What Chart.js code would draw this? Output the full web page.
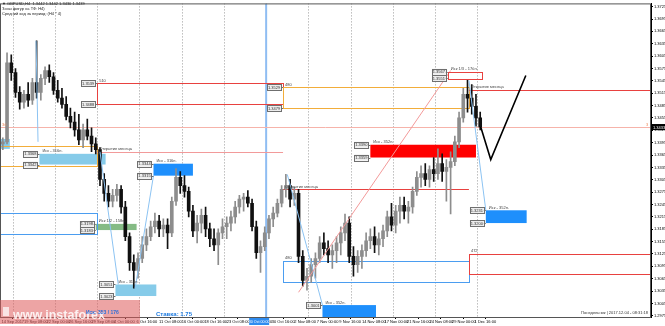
<!DOCTYPE html>
<html>
<head>
<meta charset="utf-8">
<script src="https://cdn.jsdelivr.net/npm/chart.js@4.4.1/dist/chart.umd.min.js"></script>
<style>
html, body { margin: 0; padding: 0; background: #fff; }
#wrap { width: 665px; height: 326px; }
</style>
</head>
<body>
<div id="wrap"><canvas id="chart" width="665" height="326"></canvas></div>
<script>
"use strict";

// GBPUSD H4, one drawn candle per 3 H4 bars (bar 0 = 14 Sep 2017 16:00)
const CANDLE_SPAN = 3;
const LABEL_STEP = 16;

const candleOpen = [
    1.3392, 1.3397, 1.3589, 1.3565, 1.3517, 1.3493, 1.3512, 1.3498, 1.3541, 1.3517,
    1.3551, 1.3570, 1.3555, 1.3522, 1.3503, 1.3488, 1.3459, 1.3445, 1.3426, 1.3402,
    1.3426, 1.3411, 1.3392, 1.3378, 1.3306, 1.3272, 1.3253, 1.3267, 1.3282, 1.3239,
    1.3167, 1.3104, 1.3085, 1.3114, 1.3147, 1.3167, 1.3191, 1.3205, 1.3186, 1.3195,
    1.3176, 1.3253, 1.3311, 1.3291, 1.3277, 1.3229, 1.3181, 1.3200, 1.3219, 1.3186,
    1.3162, 1.3147, 1.3176, 1.3191, 1.3200, 1.3215, 1.3239, 1.3258, 1.3263, 1.3248,
    1.3191, 1.3128, 1.3143, 1.3176, 1.3210, 1.3224, 1.3248, 1.3282, 1.3291, 1.3258,
    1.3272, 1.3119, 1.3061, 1.3071, 1.3099, 1.3114, 1.3152, 1.3138, 1.3123, 1.3133,
    1.3152, 1.3176, 1.3200, 1.3119, 1.3099, 1.3119, 1.3133, 1.3157, 1.3167, 1.3147,
    1.3162, 1.3181, 1.3215, 1.3195, 1.3229, 1.3243, 1.3229, 1.3239, 1.3277, 1.3311,
    1.3320, 1.3306, 1.3330, 1.3320, 1.3344, 1.3325, 1.3335, 1.3349, 1.3397, 1.3455,
    1.3512, 1.3503, 1.3483, 1.3455
];
const candleHigh = [
    1.3407, 1.3613, 1.3608, 1.3575, 1.3531, 1.3522, 1.3541, 1.3551, 1.3642, 1.3560,
    1.3579, 1.3584, 1.3565, 1.3546, 1.3527, 1.3507, 1.3479, 1.3469, 1.3464, 1.3440,
    1.3452, 1.3431, 1.3407, 1.3383, 1.3320, 1.3291, 1.3282, 1.3294, 1.3291, 1.3253,
    1.3176, 1.3123, 1.3128, 1.3167, 1.3186, 1.3205, 1.3224, 1.3219, 1.3210, 1.3210,
    1.3263, 1.3332, 1.3325, 1.3315, 1.3287, 1.3243, 1.3219, 1.3234, 1.3239, 1.3200,
    1.3186, 1.3186, 1.3210, 1.3215, 1.3229, 1.3253, 1.3267, 1.3272, 1.3279, 1.3258,
    1.3205, 1.3157, 1.3191, 1.3219, 1.3239, 1.3258, 1.3291, 1.3318, 1.3306, 1.3287,
    1.3282, 1.3133, 1.3090, 1.3114, 1.3128, 1.3167, 1.3176, 1.3157, 1.3147, 1.3167,
    1.3191, 1.3222, 1.3215, 1.3143, 1.3133, 1.3147, 1.3176, 1.3186, 1.3191, 1.3176,
    1.3195, 1.3229, 1.3248, 1.3243, 1.3263, 1.3263, 1.3253, 1.3287, 1.3325, 1.3339,
    1.3344, 1.3339, 1.3359, 1.3380, 1.3368, 1.3354, 1.3373, 1.3411, 1.3469, 1.3527,
    1.3548, 1.3536, 1.3512, 1.3469
];
const candleLow = [
    1.3378, 1.3392, 1.3546, 1.3505, 1.3476, 1.3479, 1.3483, 1.3488, 1.3503, 1.3498,
    1.3536, 1.3541, 1.3512, 1.3493, 1.3479, 1.3450, 1.3431, 1.3411, 1.3390, 1.3383,
    1.3402, 1.3373, 1.3368, 1.3291, 1.3253, 1.3239, 1.3239, 1.3253, 1.3224, 1.3157,
    1.3085, 1.3042, 1.3066, 1.3104, 1.3133, 1.3157, 1.3176, 1.3167, 1.3167, 1.3138,
    1.3167, 1.3243, 1.3272, 1.3263, 1.3215, 1.3167, 1.3152, 1.3176, 1.3167, 1.3143,
    1.3133, 1.3099, 1.3162, 1.3162, 1.3181, 1.3200, 1.3224, 1.3229, 1.3239, 1.3181,
    1.3114, 1.3080, 1.3133, 1.3162, 1.3191, 1.3215, 1.3239, 1.3263, 1.3239, 1.3243,
    1.3104, 1.3047, 1.3037, 1.3056, 1.3066, 1.3104, 1.3123, 1.3104, 1.3090, 1.3104,
    1.3123, 1.3157, 1.3104, 1.3071, 1.3080, 1.3090, 1.3119, 1.3138, 1.3128, 1.3123,
    1.3143, 1.3167, 1.3181, 1.3176, 1.3200, 1.3210, 1.3200, 1.3224, 1.3267, 1.3287,
    1.3291, 1.3287, 1.3301, 1.3306, 1.3301, 1.3253, 1.3222, 1.3339, 1.3383, 1.3445,
    1.3469, 1.3464, 1.3435, 1.3426
];
const candleClose = [
    1.3397, 1.3589, 1.3565, 1.3517, 1.3493, 1.3512, 1.3498, 1.3541, 1.3517, 1.3551,
    1.3570, 1.3555, 1.3522, 1.3503, 1.3488, 1.3459, 1.3445, 1.3426, 1.3402, 1.3426,
    1.3411, 1.3392, 1.3378, 1.3306, 1.3272, 1.3253, 1.3267, 1.3282, 1.3239, 1.3167,
    1.3104, 1.3085, 1.3114, 1.3147, 1.3167, 1.3191, 1.3205, 1.3186, 1.3195, 1.3176,
    1.3253, 1.3311, 1.3291, 1.3277, 1.3229, 1.3181, 1.3200, 1.3219, 1.3186, 1.3162,
    1.3147, 1.3176, 1.3191, 1.3200, 1.3215, 1.3239, 1.3258, 1.3263, 1.3248, 1.3191,
    1.3128, 1.3143, 1.3176, 1.3210, 1.3224, 1.3248, 1.3282, 1.3291, 1.3258, 1.3272,
    1.3119, 1.3061, 1.3071, 1.3099, 1.3114, 1.3152, 1.3138, 1.3123, 1.3133, 1.3152,
    1.3176, 1.3200, 1.3119, 1.3099, 1.3119, 1.3133, 1.3157, 1.3167, 1.3147, 1.3162,
    1.3181, 1.3215, 1.3195, 1.3229, 1.3243, 1.3229, 1.3239, 1.3277, 1.3311, 1.3320,
    1.3306, 1.3330, 1.3320, 1.3344, 1.3325, 1.3335, 1.3349, 1.3397, 1.3455, 1.3512,
    1.3503, 1.3483, 1.3455, 1.3433
];

const timeLabels = [
    "14 Sep 2017", "19 Sep 08:00", "22 Sep 00:00", "26 Sep 16:00", "29 Sep 08:00",
    "4 Oct 00:00", "6 Oct 16:00", "11 Oct 08:00", "16 Oct 00:00", "18 Oct 16:00",
    "23 Oct 08:00", "26 Oct 00:00", "30 Oct 16:00", "2 Nov 08:00", "7 Nov 00:00",
    "9 Nov 16:00", "14 Nov 08:00", "17 Nov 00:00", "21 Nov 16:00", "24 Nov 08:00",
    "29 Nov 00:00", "1 Dec 16:00"
];
const weekStarts = [8, 38, 68, 98, 128, 158, 188, 218, 248, 278, 308, 338];
const priceTicks = [
    1.2975, 1.3005, 1.3035, 1.3065, 1.3095, 1.3125, 1.3155, 1.3185, 1.3215, 1.3245,
    1.3275, 1.3305, 1.3335, 1.3365, 1.3395, 1.3425, 1.3455, 1.3485, 1.3515, 1.3545,
    1.3575, 1.3605, 1.3635, 1.3665, 1.3695, 1.3725
];
const lastPrice = 1.3433;
const markedBar = 188;

// month open lines: start bar, end bar, price
const monthOpens = [[68, 200, 1.3373], [200, 332, 1.3282], [332, 470, 1.3524]];

// monthly ranges: from, to, top, bottom, label, style
const monthRanges = [
    [68, 200, 1.3539, 1.3488, "510", "red"],
    [200, 332, 1.3529, 1.3479, "480", "orange"],
    [-20, 68, 1.3387, 1.3339, "", "orange"],
    [-20, 68, 1.3224, 1.3174, "481", "blue"],
    [200, 332, 1.3109, 1.3059, "480", "blue"],
    [332, 480, 1.3126, 1.3078, "472", "red"]
];

// target boxes: from, to, top, bottom, label, style, tagged
const targets = [
    [-20, 6, 1.3404, 1.3380, "Иск - 316п.", "sky", false],
    [27, 74, 1.3368, 1.3342, "Иск - 316п.", "sky", true],
    [108, 136, 1.3344, 1.3315, "Иск - 316п.", "blue", true],
    [67, 96, 1.3198, 1.3183, "Иск 1/2 - 158п.", "green", true],
    [81, 110, 1.3051, 1.3023, "Иск - 316п.", "sky", true],
    [228, 266, 1.3001, 1.2960, "Иск - 352п.", "blue", true],
    [262, 337, 1.3390, 1.3359, "Иск - 352п.", "red", true],
    [344, 373, 1.3231, 1.3200, "Иск - 352п.", "blue", true],
    [317, 341, 1.3567, 1.3551, "Иск 1/3 - 17бп.", "frame", true]
];

// thin trend lines: bar/price pairs
const moveLines = [
    [[24.6, 1.3642], [26, 1.3397]],
    [[70, 1.3373], [83, 1.3051]],
    [[95, 1.3042], [108, 1.3315]],
    [[203, 1.3318], [228, 1.3001]],
    [[332, 1.3546], [344, 1.3231]]
];
const fanLine = [[211, 1.3032], [319, 1.3570]];
const forecastPath = [[340.4, 1.3433], [347.5, 1.3354], [372.4, 1.3558]];

const PALETTE = {
    red: "#e8413f", orange: "#f2ad3a", blue: "#4b9df0",
    sky: "#86cbe9", green: "#85bb85", frame: "#e8413f"
};
const FILLS = { sky: "#86cbe9", blue: "#1e8ffc", green: "#85bb85", red: "#ff0000" };
const FONT = "'Liberation Sans', Arial, sans-serif";

const candleBars = candleOpen.map((_, k) => k * CANDLE_SPAN + 1);
const candleColour = c => candleClose[c.dataIndex] >= candleOpen[c.dataIndex] ? "#8d8d8d" : "#111111";

function text (ctx, str, x, y, colour, size, align, weight) {
    ctx.font = `${weight || "normal"} ${size}px ${FONT}`;
    ctx.fillStyle = colour;
    ctx.textAlign = align || "left";
    ctx.textBaseline = "alphabetic";
    ctx.fillText(str, x, y);
}

function seg (ctx, pts, colour, width, dash) {
    ctx.strokeStyle = colour;
    ctx.lineWidth = width;
    ctx.setLineDash(dash || []);
    ctx.beginPath();
    pts.forEach(([px, py], i) => i ? ctx.lineTo(px, py) : ctx.moveTo(px, py));
    ctx.stroke();
    ctx.setLineDash([]);
}

function tag (ctx, x, y, price) {
    ctx.fillStyle = "#ededed";
    ctx.fillRect(x - 16, y - 3, 14, 6);
    ctx.strokeStyle = "#6f6f6f";
    ctx.lineWidth = 1;
    ctx.strokeRect(Math.round(x - 16) + 0.5, Math.round(y - 3) + 0.5, 14, 6);
    seg(ctx, [[x - 2, Math.round(y) + 0.5], [x, Math.round(y) + 0.5]], "#6f6f6f", 1);
    text(ctx, price.toFixed(4), x - 9, y + 1.6, "#333", 4, "center");
}

const annotations = {
    id: "annotations",
    beforeDatasetsDraw (chart) {
        const { ctx, chartArea: a, scales: { x, y } } = chart;
        const X = v => x.getPixelForValue(v), Y = v => y.getPixelForValue(v);

        ctx.save();
        ctx.beginPath();
        ctx.rect(a.left, a.top, a.right - a.left, a.bottom - a.top);
        ctx.clip();

        weekStarts.forEach(b => {
            const px = Math.round(X(b)) + 0.5;
            seg(ctx, [[px, a.top], [px, a.bottom]], "#9a9a9a", 1, [1, 2]);
        });

        seg(ctx, [[X(markedBar), a.top], [X(markedBar), a.bottom]], "#8fbdf2", 2);

        seg(ctx, [[a.left, Math.round(Y(lastPrice)) + 0.5], [a.right, Math.round(Y(lastPrice)) + 0.5]], "#f6b3aa", 1);

        targets.forEach(([from, to, top, bottom, , style]) => {
            if (style === "frame") return;
            ctx.fillStyle = FILLS[style];
            ctx.fillRect(X(from), Y(top), X(to) - X(from), Y(bottom) - Y(top));
        });

        monthRanges.forEach(([from, to, top, bottom, , style]) => {
            ctx.strokeStyle = PALETTE[style];
            ctx.lineWidth = 1;
            ctx.strokeRect(Math.round(X(from)) + 0.5, Math.round(Y(top)) + 0.5,
                Math.round(X(to) - X(from)), Math.round(Y(bottom) - Y(top)));
        });

        monthOpens.forEach(([from, to, price], i) => {
            const py = Math.round(Y(price)) + 0.5;
            seg(ctx, [[X(from), py], [X(to), py]], i ? "#e8413f" : "#f29a9a", 1);
        });

        ctx.restore();
    },
    afterDatasetsDraw (chart) {
        const { ctx, chartArea: a, scales: { x, y } } = chart;
        const X = v => x.getPixelForValue(v), Y = v => y.getPixelForValue(v);

        ctx.save();
        ctx.beginPath();
        ctx.rect(a.left, a.top, a.right - a.left, a.bottom - a.top);
        ctx.clip();

        moveLines.forEach(line => seg(ctx, line.map(([b, p]) => [X(b), Y(p)]), "#8cc3f2", 1));
        seg(ctx, fanLine.map(([b, p]) => [X(b), Y(p)]), "#f39a9a", 1);
        seg(ctx, forecastPath.map(([b, p]) => [X(b), Y(p)]), "#000", 1.6);

        targets.forEach(([from, to, top, bottom, label, style, tagged]) => {
            if (style === "frame") {
                ctx.strokeStyle = PALETTE.frame;
                ctx.lineWidth = 1;
                ctx.strokeRect(Math.round(X(from)) + 0.5, Math.round(Y(top)) + 0.5,
                    Math.round(X(to) - X(from)), Math.round(Y(bottom) - Y(top)));
            }
            text(ctx, label, X(from) + 3, Y(top) - 1.5, "#444", 4);
            if (tagged) {
                tag(ctx, X(from), Y(top), top);
                if (bottom > 1.2975) tag(ctx, X(from), Y(bottom), bottom);
            }
        });

        monthRanges.forEach(([from, to, top, bottom, label, style]) => {
            if (label) text(ctx, label, X(from) + 2, Y(top) - 1.5, "#444", 4);
            if (from > 0 && style !== "blue" && to < 400) {
                tag(ctx, X(from), Y(top), top);
                tag(ctx, X(from), Y(bottom), bottom);
            }
        });

        monthOpens.forEach(([from, , price]) => text(ctx, "Открытие месяца", X(from) + 2, Y(price) - 1.5, "#444", 4));

        text(ctx, "3", a.right - 5, Y(lastPrice) - 1.5, "#f08a5a", 4);
        text(ctx, "3б", a.left + 2, Y(lastPrice) - 1.5, "#f08a5a", 4);

        ctx.restore();
    },
    afterDraw (chart) {
        const { ctx, chartArea: a, scales: { x, y } } = chart;
        const X = v => x.getPixelForValue(v), Y = v => y.getPixelForValue(v);

        ctx.save();
        ctx.strokeStyle = "#555";
        ctx.lineWidth = 1;
        ctx.strokeRect(a.left + 0.5, a.top + 0.5, a.right - a.left - 1, a.bottom - a.top);

        // current price marker on the price scale
        const py = Y(lastPrice);
        ctx.fillStyle = "#000";
        ctx.fillRect(a.right + 1, py - 3, 14, 6);
        text(ctx, lastPrice.toFixed(4), a.right + 8, py + 1.6, "#fff", 4, "center");

        // highlighted date of the marked line
        ctx.fillStyle = "#2f8cf0";
        ctx.fillRect(X(markedBar) - 17, a.bottom + 1, 20, 7);
        text(ctx, "30 Oct 00:00", X(markedBar) - 7, a.bottom + 6, "#fff", 3.6, "center");

        text(ctx, "▼ GBPUSD,H4  1.3442 1.3442 1.3430 1.3439", 2, 5, "#222", 4);
        text(ctx, "Зоны фигур на ТФ: H4)", 2, 10, "#222", 4);
        text(ctx, "Средний ход за период: (H4 * 4)", 2, 15, "#222", 4);

        text(ctx, "Понедельник | 2017.12.04 - 08:31:18", a.right - 3, a.bottom - 3, "#333", 4, "right");
        text(ctx, "Ставка: 1.75", 156, 316, "#1e7be0", 6, "left", "bold");

        // instaforex watermark
        ctx.fillStyle = "rgba(222, 90, 90, 0.55)";
        ctx.fillRect(0, 300, 140, 24);
        ctx.fillStyle = "rgba(255, 255, 255, 0.7)";
        ctx.fillRect(3, 307, 6, 9);
        text(ctx, "www.instaforex", 13, 319, "rgba(255,255,255,0.85)", 12.5, "left", "bold");
        text(ctx, "Иск: 353 / 176", 86, 314, "#2e6fd8", 5, "left", "bold");

        ctx.restore();
    }
};

new Chart(document.getElementById("chart"), {
    type: "bar",
    data: {
        datasets: [{
            data: candleBars.map((b, k) => ({ x: b, y: [candleLow[k], candleHigh[k]] })),
            backgroundColor: candleColour,
            barThickness: 1,
            grouped: false
        }, {
            data: candleBars.map((b, k) => ({ x: b, y: [candleOpen[k], candleClose[k]] })),
            backgroundColor: candleColour,
            barThickness: 3,
            minBarLength: 1,
            grouped: false
        }]
    },
    options: {
        responsive: false,
        animation: false,
        devicePixelRatio: 1,
        layout: { padding: 0 },
        plugins: { legend: { display: false }, tooltip: { enabled: false } },
        scales: {
            x: {
                type: "linear",
                min: -1,
                max: 461.3,
                offset: false,
                afterBuildTicks: s => { s.ticks = timeLabels.map((_, i) => ({ value: i * LABEL_STEP })); },
                afterFit: s => { s.height = 9; },
                grid: { display: true, drawOnChartArea: false, tickLength: 2, color: "#000" },
                border: { display: true, color: "#000" },
                ticks: {
                    autoSkip: false, maxRotation: 0, minRotation: 0, align: "start", padding: 0,
                    color: "#000", font: { size: 4, family: FONT },
                    callback: (v, i) => timeLabels[i]
                }
            },
            y: {
                type: "linear",
                position: "right",
                min: 1.29721,
                max: 1.37329,
                afterBuildTicks: s => { s.ticks = priceTicks.map(v => ({ value: v })); },
                afterFit: s => { s.width = 14; },
                grid: { display: true, drawOnChartArea: false, tickLength: 2, color: "#000" },
                border: { display: true, color: "#000" },
                ticks: {
                    autoSkip: false, padding: 1,
                    color: "#000", font: { size: 4, family: FONT },
                    callback: v => v.toFixed(4)
                }
            }
        }
    },
    plugins: [annotations]
});
</script>
</body>
</html>
